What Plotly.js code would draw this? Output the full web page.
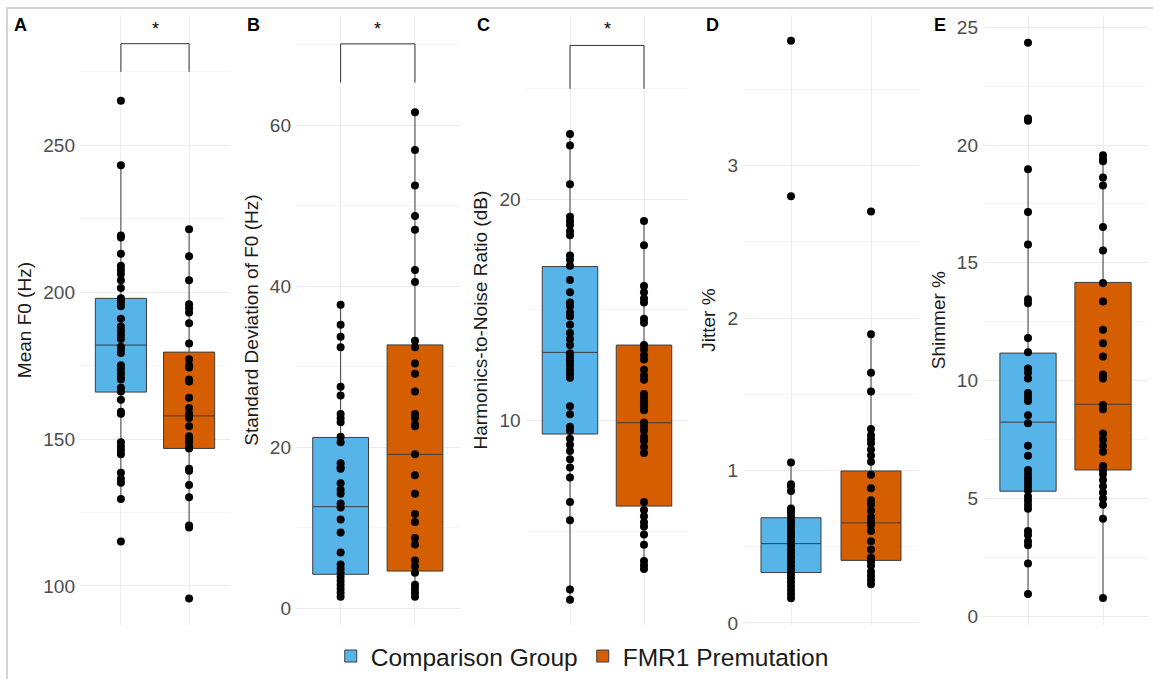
<!DOCTYPE html>
<html>
<head>
<meta charset="utf-8">
<script src="https://cdn.plot.ly/plotly-3.0.1.min.js"></script>
<style>html,body{margin:0;padding:0;background:#fff;}#chart{width:1153px;height:679px;}</style>
</head>
<body>
<div id="chart"></div>
<script>
// ---------------- DATA ----------------
const groups = ["Comparison Group", "FMR1 Premutation"];
const panelLetters = ["A", "B", "C", "D", "E"];
const yTitles = ["Mean F0 (Hz)", "Standard Deviation of F0 (Hz)", "Harmonics-to-Noise Ratio (dB)", "Jitter %", "Shimmer %"];

const meanF0_cmp = [265.2, 243.2, 219.3, 218.6, 213.1, 209.0, 207.6, 206.2, 204.1, 201.4, 197.9, 197.2, 196.5, 195.2, 191.0, 188.3, 186.9, 185.5, 184.1, 181.4, 180.7, 179.3, 175.1, 173.8, 172.4, 171.0, 170.3, 167.5, 166.2, 163.4, 159.3, 158.6, 148.9, 147.5, 146.1, 144.8, 138.5, 136.5, 135.1, 129.6, 115.1];
const meanF0_fmr = [221.4, 212.2, 204.1, 195.9, 194.5, 193.1, 189.4, 182.5, 177.2, 175.1, 174.4, 170.3, 169.6, 164.1, 160.6, 158.6, 157.9, 157.2, 154.4, 151.0, 150.3, 148.9, 147.5, 146.8, 139.9, 139.2, 134.4, 130.2, 120.6, 119.9, 95.7];

const sdF0_cmp = [37.7, 35.2, 33.7, 32.4, 27.5, 26.4, 24.1, 23.6, 23.1, 21.3, 20.6, 18.0, 17.5, 17.3, 15.5, 14.7, 14.2, 13.0, 12.5, 11.0, 9.4, 6.9, 5.4, 4.9, 4.4, 3.9, 3.4, 2.9, 2.4, 1.9, 1.4];
const sdF0_fmr = [61.6, 56.9, 52.5, 48.7, 47.0, 42.0, 40.5, 33.2, 32.4, 30.4, 29.1, 26.9, 24.1, 23.6, 22.8, 22.6, 19.1, 16.5, 14.2, 11.7, 10.7, 8.7, 7.9, 5.9, 5.2, 4.4, 2.9, 2.4, 1.9, 1.4];

const hnr_cmp = [22.95, 22.43, 20.68, 19.21, 19.02, 18.84, 18.56, 18.38, 17.46, 17.27, 17.0, 16.35, 15.8, 15.34, 15.16, 14.88, 14.7, 14.33, 13.96, 13.68, 13.41, 13.04, 12.85, 12.67, 12.49, 12.3, 12.12, 11.93, 10.64, 10.28, 9.72, 9.54, 9.17, 8.9, 8.62, 8.25, 7.88, 7.42, 6.32, 5.49, 2.36, 1.9];
const hnr_fmr = [19.02, 17.92, 16.08, 15.8, 15.52, 15.34, 14.6, 14.42, 13.41, 13.22, 12.95, 12.76, 12.3, 12.03, 11.84, 11.2, 11.01, 10.83, 10.64, 10.46, 9.91, 9.72, 9.54, 9.26, 9.08, 8.8, 8.53, 6.32, 5.95, 5.67, 5.4, 5.21, 4.84, 4.38, 3.65, 3.46, 3.28];

const jitter_cmp = [3.82, 2.80, 1.053, 0.91, 0.897, 0.865, 0.75, 0.737, 0.723, 0.696, 0.67, 0.656, 0.63, 0.603, 0.589, 0.563, 0.536, 0.509, 0.482, 0.455, 0.429, 0.402, 0.375, 0.348, 0.321, 0.295, 0.268, 0.241, 0.214, 0.188, 0.161];
const jitter_fmr = [2.70, 1.894, 1.642, 1.519, 1.272, 1.232, 1.205, 1.179, 1.138, 1.098, 1.058, 0.972, 0.884, 0.804, 0.777, 0.737, 0.696, 0.67, 0.643, 0.603, 0.536, 0.482, 0.429, 0.402, 0.375, 0.335, 0.308, 0.281, 0.254];

const shimmer_cmp = [24.34, 21.12, 21.03, 18.97, 17.16, 15.78, 13.45, 13.28, 11.81, 11.21, 10.52, 10.34, 10.09, 9.48, 9.31, 9.14, 8.53, 8.19, 7.24, 6.81, 6.21, 6.03, 5.86, 5.69, 5.52, 5.34, 5.09, 4.91, 4.74, 4.57, 3.62, 3.45, 3.19, 3.02, 2.24, 0.95];
const shimmer_fmr = [19.57, 19.40, 19.31, 18.62, 18.28, 16.52, 15.52, 14.14, 13.36, 12.16, 11.59, 11.03, 10.26, 10.09, 8.97, 8.79, 7.76, 7.5, 7.24, 6.98, 6.38, 6.21, 6.03, 5.78, 5.52, 5.26, 5.0, 4.74, 4.14, 0.78];

// box summaries: [lower whisker, Q1, median, Q3, upper whisker]
const meanF0_cmpBox  = [129.6, 166.0, 182.0, 197.9, 243.2];
const meanF0_fmrBox  = [119.9, 146.8, 157.9, 179.6, 221.4];
const sdF0_cmpBox    = [1.4, 4.2, 12.6, 21.2, 37.7];
const sdF0_fmrBox    = [1.4, 4.6, 19.1, 32.7, 61.6];
const hnr_cmpBox     = [1.9, 9.39, 13.08, 16.96, 22.95];
const hnr_fmrBox     = [3.28, 6.13, 9.9, 13.41, 19.02];
const jitter_cmpBox  = [0.161, 0.33, 0.52, 0.69, 1.053];
const jitter_fmrBox  = [0.254, 0.41, 0.656, 0.997, 1.894];
const shimmer_cmpBox = [0.95, 5.31, 8.24, 11.17, 18.97];
const shimmer_fmrBox = [0.78, 6.21, 9.0, 14.17, 19.57];

// significance brackets (panels A, B, C): tip level, bar level, star level
const sigTip  = [275, 65.3, 25.0];
const sigBar  = [284.6, 70.1, 26.96];
const sigStar = [289.7, 71.9, 27.7];

// ---------------- STYLE / LAYOUT ----------------
const W = 1153, H = 679;
const FONT = "Liberation Sans, Arial, sans-serif";
const fills = ["#56B4E9", "#D55E00"];
const seriesCmp = [meanF0_cmp, sdF0_cmp, hnr_cmp, jitter_cmp, shimmer_cmp];
const seriesFmr = [meanF0_fmr, sdF0_fmr, hnr_fmr, jitter_fmr, shimmer_fmr];
const boxCmp = [meanF0_cmpBox, sdF0_cmpBox, hnr_cmpBox, jitter_cmpBox, shimmer_cmpBox];
const boxFmr = [meanF0_fmrBox, sdF0_fmrBox, hnr_fmrBox, jitter_fmrBox, shimmer_fmrBox];
const xPix = [[80, 230], [296, 459.6], [525.6, 688.4], [743, 919], [983, 1148]];
const yRanges = [[86.6, 294.4], [-2.14, 73.7], [0.74, 28.34], [-0.016, 3.99], [-0.38, 25.52]];
const dticks = [50, 20, 10, 1, 5];
const letterX = [12, 245, 475, 704, 932];
const yTop = 15, yBot = 629;

const boxTraces = [], pointTraces = [], extraTraces = [];
const layout = {
  width: W, height: H,
  margin: {l: 0, r: 0, t: 0, b: 0},
  paper_bgcolor: "#ffffff", plot_bgcolor: "#ffffff",
  font: {family: FONT, color: "#1a1a1a"},
  showlegend: true,
  boxmode: "overlay",
  legend: {orientation: "h", x: 0.505, xanchor: "center", y: 1 - 660 / H, yanchor: "middle",
           font: {size: 24.5, family: FONT, color: "#1a1a1a"}, bgcolor: "rgba(0,0,0,0)", itemwidth: 30},
  annotations: [], shapes: []
};

for (let i = 0; i < 5; i++) {
  const ax = i === 0 ? "" : String(i + 1);
  const xa = "x" + ax, ya = "y" + ax;
  const pts = [seriesCmp[i], seriesFmr[i]];
  const stats = [boxCmp[i], boxFmr[i]];
  for (let g = 0; g < 2; g++) {
    const s = stats[g];
    boxTraces.push({
      type: "box", name: groups[g], x: [groups[g]],
      lowerfence: [s[0]], q1: [s[1]], median: [s[2]], q3: [s[3]], upperfence: [s[4]],
      xaxis: xa, yaxis: ya, legendgroup: groups[g], showlegend: i === 0,
      boxpoints: false, width: 0.75, whiskerwidth: 0,
      fillcolor: fills[g], line: {color: "#3d3d3d", width: 1},
      hoverinfo: "skip"
    });
    pointTraces.push({
      type: "scatter", mode: "markers", name: groups[g],
      x: pts[g].map(() => groups[g]), y: pts[g],
      xaxis: xa, yaxis: ya, showlegend: false, legendgroup: groups[g],
      marker: {color: "#000000", size: 8, line: {width: 0}},
      hoverinfo: "y"
    });
  }
  layout["xaxis" + ax] = {
    domain: [xPix[i][0] / W, xPix[i][1] / W], anchor: ya,
    type: "category", categoryarray: groups, categoryorder: "array",
    range: [-0.6, 1.6], showgrid: true, gridcolor: "#ebebeb", gridwidth: 1,
    showticklabels: false, ticks: "", zeroline: false, showline: false, fixedrange: true
  };
  layout["yaxis" + ax] = {
    domain: [1 - yBot / H, 1 - yTop / H], anchor: xa,
    range: yRanges[i], dtick: dticks[i], tick0: 0,
    showgrid: true, gridcolor: "#ebebeb", gridwidth: 1,
    minor: {showgrid: true, dtick: dticks[i] / 2, gridcolor: "#f2f2f2", gridwidth: 0.8, ticks: ""},
    ticks: "", ticklabelstandoff: 4, zeroline: false, showline: false, automargin: false,
    tickfont: {size: 19, family: FONT, color: "#4d4d4d"},
    title: {text: yTitles[i], font: {size: 19, family: FONT, color: "#1a1a1a"}, standoff: 6},
    fixedrange: true
  };
  layout.annotations.push({
    xref: "paper", yref: "paper", x: letterX[i] / W, y: 1 - 25 / H,
    xanchor: "left", yanchor: "middle", showarrow: false,
    text: "<b>" + panelLetters[i] + "</b>", font: {size: 18, family: FONT, color: "#000"}
  });
  if (i < 3) {
    extraTraces.push({
      type: "scatter", mode: "lines", xaxis: xa, yaxis: ya, showlegend: false, hoverinfo: "skip",
      x: [groups[0], groups[0], groups[1], groups[1]],
      y: [sigTip[i], sigBar[i], sigBar[i], sigTip[i]],
      line: {color: "#333333", width: 1}
    });
    layout.annotations.push({
      xref: xa, yref: ya, x: 0.5, y: sigStar[i], showarrow: false,
      xanchor: "center", yanchor: "middle", text: "*",
      font: {size: 18, family: FONT, color: "#000"}
    });
  }
}

// outer border (top and left edges visible)
layout.shapes.push({type: "rect", xref: "paper", yref: "paper",
  x0: 7 / W, x1: 1.02, y0: -0.02, y1: 1 - 8 / H,
  line: {color: "#c8c8c8", width: 1.5}, fillcolor: "rgba(0,0,0,0)", layer: "above"});

Plotly.newPlot("chart", boxTraces.concat(pointTraces, extraTraces), layout, {displayModeBar: false, staticPlot: true});
</script>
</body>
</html>
